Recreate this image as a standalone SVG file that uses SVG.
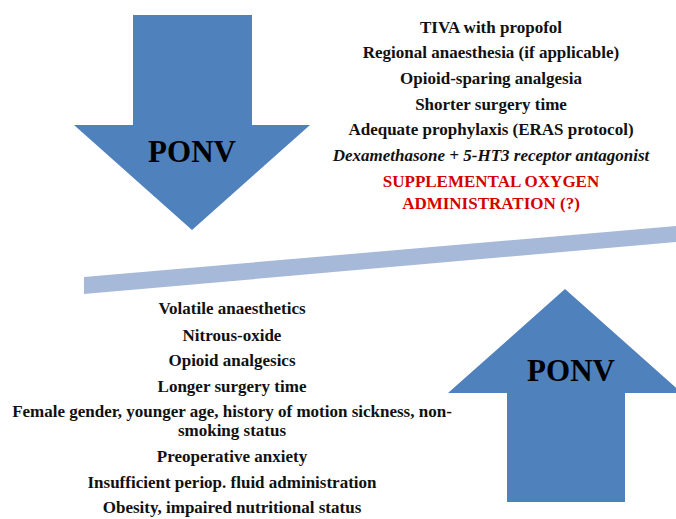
<svg xmlns="http://www.w3.org/2000/svg" width="676" height="519" viewBox="0 0 676 519">
<style>
.arrow{fill:#4f81bd}
.bar{fill:#a7b9d9}
.big{font-family:"Liberation Serif","DejaVu Serif",serif;font-weight:bold;font-size:31px;fill:#000;text-anchor:middle}
.t{font-family:"Liberation Serif","DejaVu Serif",serif;font-weight:bold;font-size:17px;fill:#111;text-anchor:middle}
.it{font-style:italic}
.red{fill:#d40000}
</style>
<rect width="676" height="519" fill="#fff"/>
<g id="balance-bar">
<polygon class="bar" points="84,277 676,226 676,242 84,294"/>
</g>
<g id="ponv-down">
<polygon class="arrow" points="133,15 252,15 252,125 310,125 192,230 74,125 133,125"/>
<text class="big" x="192" y="162">PONV</text>
</g>
<g id="ponv-up">
<polygon class="arrow" points="565,289 682,393 625,393 625,502 507,502 507,393 448,393"/>
<text class="big" x="571" y="381">PONV</text>
</g>
<g id="reducing-factors">
<text class="t" x="491" y="33">TIVA with propofol</text>
<text class="t" x="491" y="58">Regional anaesthesia  (if applicable)</text>
<text class="t" x="491" y="84">Opioid-sparing analgesia</text>
<text class="t" x="491" y="110">Shorter surgery time</text>
<text class="t" x="491" y="135">Adequate prophylaxis (ERAS protocol)</text>
<text class="t it" x="491" y="161">Dexamethasone + 5-HT3 receptor antagonist</text>
<text class="t red" x="491" y="187">SUPPLEMENTAL OXYGEN</text>
<text class="t red" x="491" y="209">ADMINISTRATION (?)</text>
</g>
<g id="increasing-factors">
<text class="t" x="232" y="314">Volatile anaesthetics</text>
<text class="t" x="232" y="341">Nitrous-oxide</text>
<text class="t" x="232" y="366">Opioid analgesics</text>
<text class="t" x="232" y="392">Longer surgery time</text>
<text class="t" x="232" y="417">Female gender, younger age, history of motion sickness, non-</text>
<text class="t" x="232" y="436">smoking status</text>
<text class="t" x="232" y="462">Preoperative anxiety</text>
<text class="t" x="232" y="488">Insufficient periop. fluid administration</text>
<text class="t" x="232" y="513">Obesity, impaired nutritional status</text>
</g>
</svg>
